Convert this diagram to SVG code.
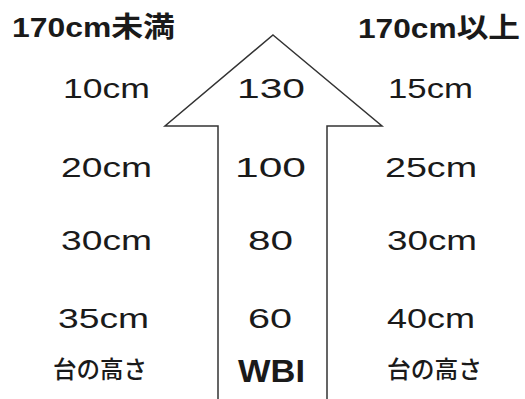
<svg xmlns="http://www.w3.org/2000/svg" width="525" height="399" viewBox="0 0 525 399">
<style>
.t{font-family:"Liberation Sans","Noto Sans CJK JP",Arial,sans-serif;font-size:27px;fill:#1a1a1a}
.h{font-family:"Liberation Sans","Noto Sans CJK JP",Arial,sans-serif;font-size:28px;font-weight:bold;fill:#1a1a1a}
.j{font-family:"Noto Sans CJK JP","Liberation Sans",sans-serif;font-size:24px;font-weight:500;fill:#1a1a1a}
.w{font-family:"Liberation Sans",Arial,sans-serif;font-size:31px;font-weight:bold;fill:#1a1a1a}
.arrow{fill:#fff;stroke:#333;stroke-width:1.5;stroke-linejoin:miter}
</style>
<rect width="525" height="399" fill="#fff"/>
<g id="arrow">
<polygon class="arrow" points="273,35 382,126 327,126 327,402 218,402 218,126 165,126"/>
</g>
<g id="connectors"></g>
<g id="header-left"><text class="h" x="12" y="37" textLength="163" lengthAdjust="spacingAndGlyphs">170cm未満</text></g>
<g id="header-right"><text class="h" x="358" y="38" textLength="162" lengthAdjust="spacingAndGlyphs">170cm以上</text></g>
<g id="left-col">
<text class="t" x="63" y="98" textLength="87" lengthAdjust="spacingAndGlyphs">10cm</text>
<text class="t" x="61" y="177" textLength="91" lengthAdjust="spacingAndGlyphs">20cm</text>
<text class="t" x="61" y="250" textLength="91" lengthAdjust="spacingAndGlyphs">30cm</text>
<text class="t" x="58" y="328" textLength="91" lengthAdjust="spacingAndGlyphs">35cm</text>
<text class="j" x="53" y="378" textLength="94" lengthAdjust="spacingAndGlyphs">台の高さ</text>
</g>
<g id="center-col">
<text class="t" x="237" y="98" textLength="68" lengthAdjust="spacingAndGlyphs">130</text>
<text class="t" x="235" y="177" textLength="71" lengthAdjust="spacingAndGlyphs">100</text>
<text class="t" x="248" y="250" textLength="45" lengthAdjust="spacingAndGlyphs">80</text>
<text class="t" x="248" y="328" textLength="44" lengthAdjust="spacingAndGlyphs">60</text>
<text class="w" x="238" y="382" textLength="67" lengthAdjust="spacingAndGlyphs">WBI</text>
</g>
<g id="right-col">
<text class="t" x="388" y="98" textLength="85" lengthAdjust="spacingAndGlyphs">15cm</text>
<text class="t" x="385" y="177" textLength="92" lengthAdjust="spacingAndGlyphs">25cm</text>
<text class="t" x="387" y="250" textLength="90" lengthAdjust="spacingAndGlyphs">30cm</text>
<text class="t" x="387" y="328" textLength="88" lengthAdjust="spacingAndGlyphs">40cm</text>
<text class="j" x="387" y="378" textLength="95" lengthAdjust="spacingAndGlyphs">台の高さ</text>
</g>
</svg>
